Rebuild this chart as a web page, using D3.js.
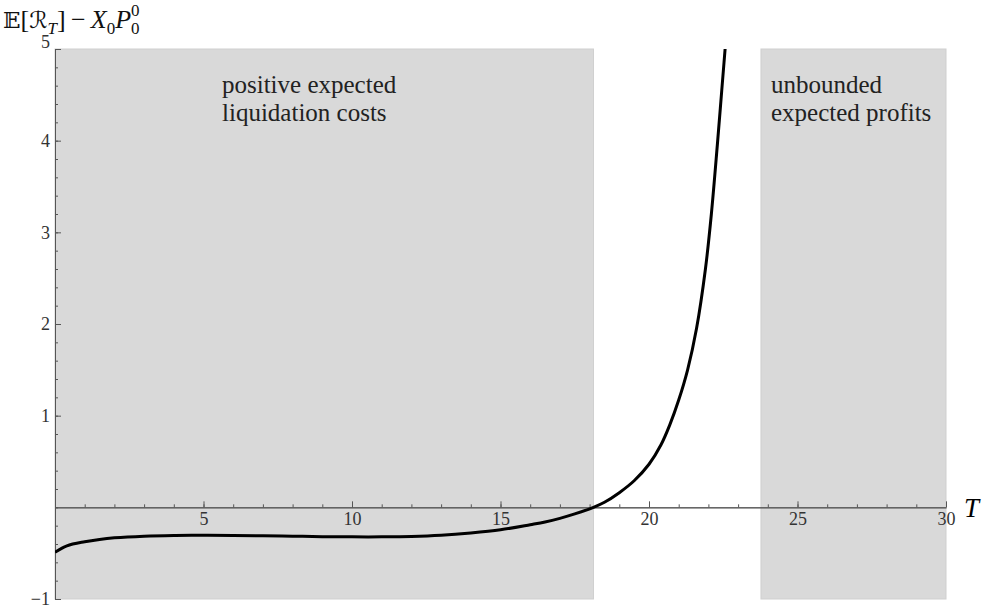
<!DOCTYPE html>
<meta charset="utf-8">
<style>
body { margin: 0; background: #fff; }
#chart { background: #fff; }
.tick text { font-family: "Liberation Serif", serif; font-size: 18px; fill: #333; }
.axis path, .axis line { stroke: #555; }
.note { font-family: "Liberation Serif", serif; font-size: 25px; fill: #222; }
</style>
<svg id="chart" width="987" height="610"></svg>
<script src="https://cdn.jsdelivr.net/npm/d3@7/dist/d3.min.js"></script>
<script>
// values
var tValues = [0, 0.4, 1, 1.5, 2, 3, 4, 5, 6, 7, 8, 9, 10, 11, 12, 13, 14, 15, 16, 16.5, 17, 17.5,
  18.13, 18.5, 19, 19.5, 20, 20.4, 20.7, 21, 21.3, 21.6, 21.9, 22.1, 22.3, 22.45, 22.6, 22.75];
var profitValues = [-0.49, -0.42, -0.375, -0.35, -0.333, -0.315, -0.307, -0.305, -0.306, -0.31, -0.315,
  -0.32, -0.322, -0.322, -0.318, -0.305, -0.28, -0.245, -0.19, -0.16, -0.12, -0.072,
  0, 0.055, 0.16, 0.29, 0.47, 0.68, 0.9, 1.17, 1.5, 1.95, 2.6, 3.2, 3.95, 4.55, 5.15, 5.75];

var regionStart = [0, 23.77];
var regionEnd = [18.13, 30];
var regionLabels = [["positive expected", "liquidation costs"], ["unbounded", "expected profits"]];

var xMajorTicks = [5, 10, 15, 20, 25, 30];
var yMajorTicks = [-1, 1, 2, 3, 4, 5];

var svg = d3.select("#chart");

var x = d3.scaleLinear().domain([0, 30]).range([55, 946]);
var y = d3.scaleLinear().domain([-1, 5]).range([599, 49]);

// shaded regions
svg.selectAll(".region")
  .data(regionStart)
  .enter().append("rect")
  .attr("class", "region")
  .attr("x", function(d) { return x(d); })
  .attr("y", y(5))
  .attr("width", function(d, i) { return x(regionEnd[i]) - x(d); })
  .attr("height", y(-1) - y(5))
  .attr("fill", "#d9d9d9")
  .attr("stroke", "#cfcfcf")
  .attr("stroke-width", 1);

// region labels
var notes = svg.selectAll(".note")
  .data(regionLabels)
  .enter().append("text")
  .attr("class", "note")
  .attr("x", function(d, i) { return i == 0 ? 222 : 771; })
  .attr("y", 93);
notes.selectAll("tspan")
  .data(function(d) { return d; })
  .enter().append("tspan")
  .attr("x", function() { return d3.select(this.parentNode).attr("x"); })
  .attr("dy", function(d, i) { return i == 0 ? 0 : 28; })
  .text(function(d) { return d; });

// minor ticks
svg.append("g")
  .attr("class", "axis")
  .attr("transform", "translate(0," + y(0) + ")")
  .call(d3.axisBottom(x).tickValues(d3.range(1, 30)).tickSizeInner(-3).tickSizeOuter(0).tickFormat(""));
svg.append("g")
  .attr("class", "axis")
  .attr("transform", "translate(" + x(0) + ",0)")
  .call(d3.axisLeft(y).tickValues(d3.range(-1, 5.01, 0.2)).tickSizeInner(-3).tickSizeOuter(0).tickFormat(""));

// major ticks
svg.append("g")
  .attr("class", "axis")
  .attr("transform", "translate(0," + y(0) + ")")
  .call(d3.axisBottom(x).tickValues(xMajorTicks).tickSizeInner(-6).tickSizeOuter(0).tickPadding(5));

var yAxis = svg.append("g")
  .attr("class", "axis")
  .attr("transform", "translate(" + x(0) + ",0)")
  .call(d3.axisLeft(y).tickValues(yMajorTicks).tickSizeInner(-6).tickSizeOuter(0).tickPadding(5)
    .tickFormat(function(d) { return d < 0 ? "\u2212" + (-d) : d; }));
yAxis.selectAll(".tick text").filter(function(d) { return d == 5; }).attr("dy", "-0.1em");

// curve
svg.append("clipPath").attr("id", "plotclip")
  .append("rect").attr("x", x(0)).attr("y", y(5)).attr("width", x(30) - x(0)).attr("height", y(-1) - y(5));

var line = d3.line()
  .x(function(d, i) { return x(tValues[i]); })
  .y(function(d) { return y(d); })
  .curve(d3.curveCatmullRom.alpha(0.5));

svg.append("path")
  .datum(profitValues)
  .attr("clip-path", "url(#plotclip)")
  .attr("d", line)
  .attr("fill", "none")
  .attr("stroke", "#000")
  .attr("stroke-width", 3);

// axis labels
svg.append("text")
  .attr("x", 964)
  .attr("y", 517)
  .style("font-family", "Liberation Serif, serif")
  .style("font-style", "italic")
  .style("font-size", "27px")
  .text("T");

var title = svg.append("text")
  .attr("x", 3)
  .attr("y", 28)
  .style("font-family", "Liberation Serif, serif")
  .style("font-size", "26px")
  .attr("fill", "#111");
title.append("tspan").style("font-family", "DejaVu Serif, serif").style("font-size", "23px").text("\uD835\uDD3C");
title.append("tspan").text("[");
title.append("tspan").style("font-family", "DejaVu Sans, serif").style("font-size", "23px").text("\u211B");
title.append("tspan").attr("dy", 6).style("font-style", "italic").style("font-size", "17px").text("T");
title.append("tspan").attr("dy", -6).text("]\u2009\u2212\u2009");
title.append("tspan").style("font-style", "italic").text("X");
title.append("tspan").attr("dy", 6).style("font-size", "17px").text("0");
title.append("tspan").attr("dy", -6).style("font-style", "italic").text("P");
title.append("tspan").attr("dy", 6).style("font-size", "17px").text("0");
title.append("tspan").attr("dx", -8.5).attr("dy", -18).style("font-size", "17px").text("0");
</script>
